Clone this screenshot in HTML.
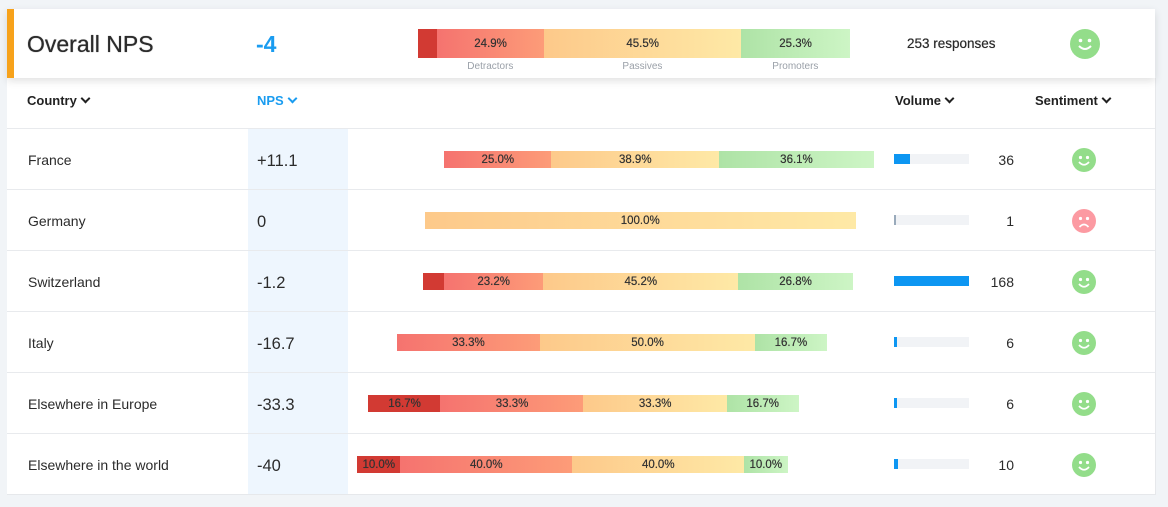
<!DOCTYPE html>
<html><head><meta charset="utf-8"><style>
body{margin:0;width:1168px;height:507px;background:#f1f4f7;font-family:"Liberation Sans",sans-serif;position:relative;overflow:hidden;color:#2b2b2b}
.abs{position:absolute}
.card{left:7px;top:9px;width:1148px;height:69px;background:#fff;box-shadow:0 3px 8px rgba(0,0,0,.12);z-index:2}
.stripe{left:0;top:0;width:7px;height:69px;background:#f7a21b}
.table{left:7px;top:78px;width:1148px;height:416px;background:#fff;border-right:1px solid #e6e8eb;border-bottom:1px solid #e6e8eb}
.seg{position:absolute;top:0;height:100%;font-size:11.5px;display:flex;align-items:center;justify-content:center;color:#333;overflow:hidden;text-shadow:0 0 0.4px #333}
.hdr{font-size:13px;font-weight:bold;top:93px;color:#222}
.chev{display:inline-block;width:5px;height:5px;border-right:2px solid currentColor;border-bottom:2px solid currentColor;transform:rotate(45deg);margin-left:5px;position:relative;top:-3px}
</style></head><body>
<div class="abs card">
<div class="abs stripe"></div>
<div class="abs" style="left:20px;top:22px;font-size:23px;text-shadow:0 0 0.7px #2b2b2b">Overall NPS</div>
<div class="abs" style="left:249px;top:22px;font-size:23px;color:#1a9cf0;font-weight:bold">-4</div>
<div class="abs" id="ovbar" style="left:411px;top:20px;width:432px;height:29px"></div>
<div class="abs" style="left:900px;top:27px;font-size:13.5px;text-shadow:0 0 0.5px #2b2b2b">253 responses</div>
<svg class="abs" style="left:1063px;top:20px" width="30" height="30"><circle cx="15" cy="15" r="15" fill="#93dd8a"/><circle cx="10.5" cy="11.5" r="1.8" fill="#fff"/><circle cx="19.5" cy="11.5" r="1.8" fill="#fff"/><path d="M9 17 Q15 23 21 17" stroke="#fff" stroke-width="2" fill="none"/></svg>
</div>
<div class="abs table"></div>
<div class="abs" style="left:248px;top:128px;width:100px;height:366px;background:#eef6fe"></div>
<div class="abs hdr" style="left:27px">Country<span class="chev"></span></div>
<div class="abs hdr" style="left:257px;color:#1a9cf0">NPS<span class="chev"></span></div>
<div class="abs hdr" style="left:895px">Volume<span class="chev"></span></div>
<div class="abs hdr" style="left:1035px">Sentiment<span class="chev"></span></div>
<div id="rows"></div>
<script>
const countries=["France","Germany","Switzerland","Italy","Elsewhere in Europe","Elsewhere in the world"];
const npsValues=["+11.1","0","-1.2","-16.7","-33.3","-40"];
const strongDetractors=[0,0,4.8,0,16.7,10];
const detractors=[25,0,23.2,33.3,33.3,40];
const passives=[38.9,100,45.2,50,33.3,40];
const promoters=[36.1,0,26.8,16.7,16.7,10];
const volumes=[36,1,168,6,6,10];
const overall=[4.3,24.9,45.5,25.3];
const overallLabels=["","Detractors","Passives","Promoters"];
const cols=["linear-gradient(90deg,#d23a33,#d23a33)","linear-gradient(90deg,#f5736f,#fd9c78)","linear-gradient(90deg,#fdc98a,#fee9a6)","linear-gradient(90deg,#aee3a6,#cdf5c5)"];
const names=["strong-detractors","detractors","passives","promoters"];
function makeSegs(parent,vals,total,labelMin){
  let x=0;
  vals.forEach((v,i)=>{ if(v<=0)return;
    const s=document.createElement('div');s.className='seg';
    
    
    s.style.left=(x/100*total)+'px';s.style.width=(v/100*total+0.5)+'px';s.style.background=cols[i];
    if(v>=labelMin)s.textContent=v.toFixed(1)+'%';
    parent.appendChild(s);x+=v;});
}
const ov=document.getElementById('ovbar');
makeSegs(ov,overall,432,8);
let ox=0;overall.forEach((v,i)=>{if(overallLabels[i]){const l=document.createElement('div');l.className='abs';


l.style.cssText=`left:${(ox+v/2)/100*432-40}px;width:80px;text-align:center;top:32px;font-size:10px;color:#9aa0a8`;l.textContent=overallLabels[i];ov.appendChild(l);}ox+=v;});
const rowsEl=document.getElementById('rows');const maxV=Math.max(...volumes);
countries.forEach((c,i)=>{
  const top=128+i*61, cy=top+31;
  const line=document.createElement('div');line.className='abs';
  
  
  line.style.cssText=`left:7px;top:${top}px;width:1148px;height:1px;background:#e8eaed`;rowsEl.appendChild(line);
  const n=document.createElement('div');n.className='abs';
  
  
  n.style.cssText=`left:28px;top:${cy-7}px;font-size:14px`;n.textContent=c;rowsEl.appendChild(n);
  const p=document.createElement('div');p.className='abs';
  
  
  p.style.cssText=`left:257px;top:${cy-7}px;font-size:16.5px`;p.textContent=npsValues[i];rowsEl.appendChild(p);
  const b=document.createElement('div');b.className='abs';
  
  
  const center=640+parseFloat(npsValues[i])*1.7;
  b.style.cssText=`left:${center-215}px;top:${cy-8}px;width:430px;height:17px`;
  makeSegs(b,[strongDetractors[i],detractors[i],passives[i],promoters[i]],430,8);rowsEl.appendChild(b);
  const t=document.createElement('div');t.className='abs';
  
  
  t.style.cssText=`left:894px;top:${cy-5}px;width:75px;height:10px;background:#f1f3f6`;
  const f=document.createElement('div');
  
  
  f.style.cssText=`height:100%;width:${Math.max(2,volumes[i]/maxV*75)}px;background:${volumes[i]<2?'#9ab':'#0d96f2'}`;t.appendChild(f);rowsEl.appendChild(t);
  const v=document.createElement('div');v.className='abs';
  
  
  v.style.cssText=`left:964px;width:50px;text-align:right;top:${cy-7}px;font-size:14px`;v.textContent=volumes[i];rowsEl.appendChild(v);
  const happy=parseFloat(npsValues[i])!==0;
  const s=document.createElementNS('http://www.w3.org/2000/svg','svg');
  
  
  s.setAttribute('width','24');s.setAttribute('height','24');s.setAttribute('class','abs');
  s.style.left='1072px';s.style.top=(cy-11)+'px';
  s.innerHTML=`<circle cx="12" cy="12" r="12" fill="${happy?'#93dd8a':'#fc9aa2'}"/><circle cx="8.5" cy="9.5" r="1.6" fill="#fff"/><circle cx="15.5" cy="9.5" r="1.6" fill="#fff"/>`+(happy?`<path d="M7 14 Q12 19.5 17 14" stroke="#fff" stroke-width="1.7" fill="none"/>`:`<path d="M7.5 18 Q12 13 16.5 18" stroke="#fff" stroke-width="1.7" fill="none"/>`);
  rowsEl.appendChild(s);
});
</script>
</body></html>
